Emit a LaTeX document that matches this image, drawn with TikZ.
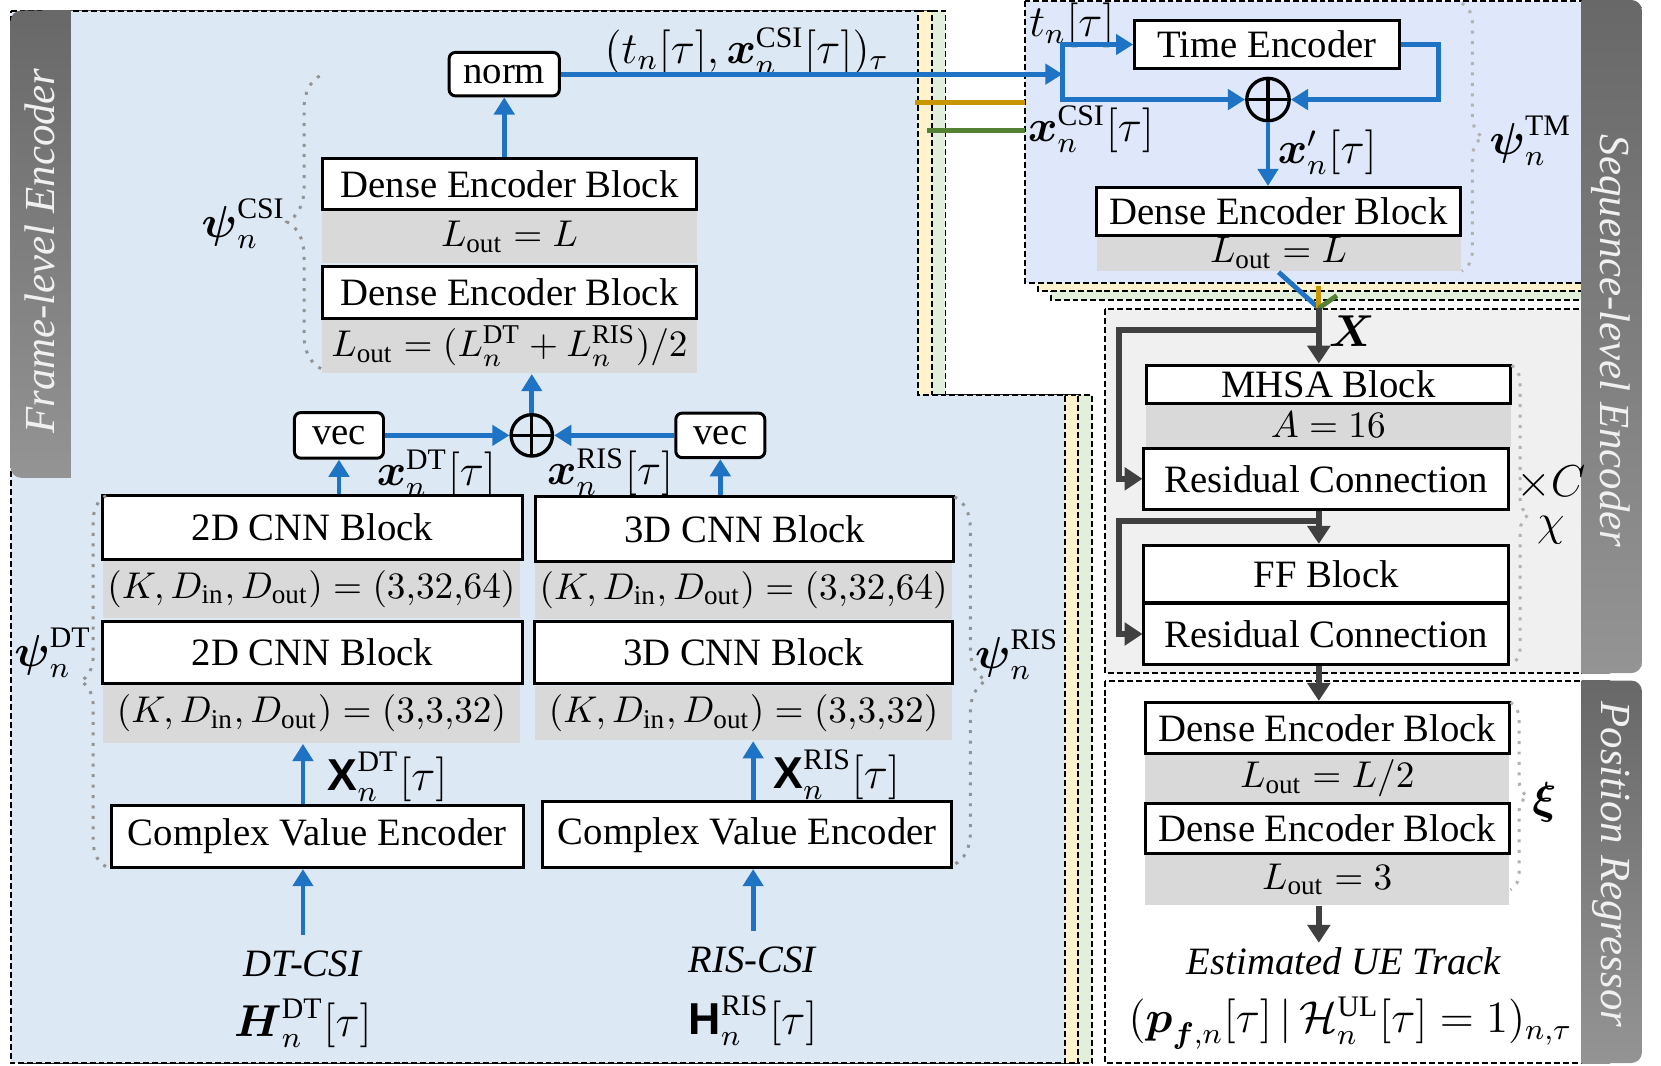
\documentclass[tikz,border=0pt]{standalone}
\usepackage{amsmath,amssymb}
\usepackage{fontspec}
\setmainfont{Liberation Serif}
\setsansfont{Liberation Sans}
\usetikzlibrary{arrows.meta, calc, decorations.pathreplacing}
\definecolor{flowblue}{RGB}{30,115,196}
\definecolor{flowgray}{RGB}{64,64,64}
\definecolor{flebg}{RGB}{221,232,245}
\definecolor{tmbg}{RGB}{222,232,250}
\definecolor{layeryellow}{RGB}{255,242,204}
\definecolor{layergreen}{RGB}{226,239,218}
\definecolor{paramgray}{RGB}{217,217,217}
\definecolor{slebg}{RGB}{240,240,240}
\definecolor{lineorange}{RGB}{200,150,0}
\definecolor{linegreen}{RGB}{84,130,53}
\definecolor{tabdark}{RGB}{104,104,104}
\definecolor{tablight}{RGB}{148,148,148}
\tikzset{
  blk/.style={draw, line width=0.8pt, fill=white, inner sep=0pt},
  prm/.style={fill=paramgray, inner sep=0pt},
  opnode/.style={draw, rounded corners=0.06cm, line width=0.8pt, fill=white, inner sep=0pt},
  addnode/.style={circle, draw, line width=0.9pt, inner sep=0pt,
    path picture={\draw[line width=0.9pt] (path picture bounding box.north) -- (path picture bounding box.south)
      (path picture bounding box.west) -- (path picture bounding box.east);}},
  lbl/.style={inner sep=0pt, font=\fontsize{12}{14}\selectfont},
  barrow/.style={-{Triangle[length=4.6pt,width=5.4pt]}, line width=1.3pt, flowblue},
  garrow/.style={-{Triangle[length=4.8pt,width=6pt]}, line width=1.6pt, flowgray},
  layerbox/.style={draw, line width=0.5pt, dash pattern=on 1.6pt off 0.8pt},
  bracedot/.style={decorate, decoration={brace, amplitude=#1}, gray!85, dotted, line width=0.8pt},
  tabshade/.style={top color=tabdark, bottom color=tablight},
  tabtxt/.style={font=\fontsize{11.5}{13}\selectfont\itshape, text=gray!12},
}

\begin{document}
\begin{tikzpicture}[x=0.01cm, y=-0.01cm, every node/.style={font=\fontsize{10.4}{12.5}\selectfont}]
  \useasboundingbox (0,0) rectangle (1568,1006);

  % stacked frame-level encoders
  \foreach \dx/\col in {26/layergreen, 13/layeryellow, 0/flebg}
    \filldraw[layerbox, fill=\col, xshift=\dx*0.01cm] (10,10) -- (866.5,10) -- (866.5,372.8)
      -- (1005,372.8) -- (1005,1003.5) -- (10,1003.5) -- cycle;
  % stacked temporal modules
  \foreach \dx/\dy/\col in {24/15.5/layergreen, 12/7.5/layeryellow, 0/0/tmbg}
    \filldraw[layerbox, fill=\col, shift={(\dx,\dy)}] (968,1) rectangle (1493,267.5);
  \filldraw[layerbox, fill=slebg] (1043,292) rectangle (1493,635.4);
  \filldraw[layerbox, fill=white] (1043,642.5) rectangle (1493,1003.5);

  % side tabs
  \shade[tabshade, rounded corners=0.1cm] (10,10) rectangle (67,451);
  \shade[tabshade] (40,10) rectangle (67,451);
  \shade[tabshade, rounded corners=0.1cm] (1493,0) rectangle (1550,635.4);
  \shade[tabshade] (1493,0) rectangle (1520,635.4);
  \shade[tabshade, rounded corners=0.1cm] (1493,642.5) rectangle (1550,1003.5);
  \shade[tabshade] (1493,642.5) rectangle (1520,1003.5);
  \node[tabtxt, rotate=90] (tabfle) at (38,237) {Frame-level Encoder};
  \node[tabtxt, rotate=-90] (tabsle) at (1521,322) {Sequence-level Encoder};
  \node[tabtxt, rotate=-90] (tabpr) at (1521,816) {Position Regressor};

  % frame-level encoder
  \node[prm, minimum width=3.53cm, minimum height=0.50cm] (pcsiA) at (481,223.4) {$L_{\mathrm{out}}=L$};
  \node[prm, minimum width=3.53cm, minimum height=0.52cm] (pcsiB) at (481,326.4)
    {$L_{\mathrm{out}}=(L_n^{\mathrm{DT}}+L_n^{\mathrm{RIS}})/2$};
  \node[blk, minimum width=3.53cm, minimum height=0.48cm] (dcsiA) at (481,174) {Dense Encoder Block};
  \node[blk, minimum width=3.53cm, minimum height=0.49cm] (dcsiB) at (481,276) {Dense Encoder Block};
  \node[opnode, minimum width=1.04cm, minimum height=0.41cm] (norm) at (476,70) {norm};
  \node[addnode, minimum size=0.39cm] (addcsi) at (502,411) {};
  \node[opnode, minimum width=0.84cm, minimum height=0.43cm] (vecdt) at (320,411) {vec};
  \node[opnode, minimum width=0.84cm, minimum height=0.42cm] (vecris) at (680,411) {vec};

  \node[prm, minimum width=3.94cm, minimum height=0.555cm] (pcnndtA) at (294,556)
    {$(K,D_{\mathrm{in}},D_{\mathrm{out}})=(3{,}32{,}64)$};
  \node[prm, minimum width=3.94cm, minimum height=0.56cm] (pcnndtB) at (294,673.5)
    {$(K,D_{\mathrm{in}},D_{\mathrm{out}})=(3{,}3{,}32)$};
  \node[blk, minimum width=3.96cm, minimum height=0.60cm] (cnndtA) at (295,498) {2D CNN Block};
  \node[blk, minimum width=3.96cm, minimum height=0.59cm] (cnndtB) at (295,616) {2D CNN Block};
  \node[prm, minimum width=3.94cm, minimum height=0.54cm] (pcnnrisA) at (702,557)
    {$(K,D_{\mathrm{in}},D_{\mathrm{out}})=(3{,}32{,}64)$};
  \node[prm, minimum width=3.94cm, minimum height=0.51cm] (pcnnrisB) at (702,673.5)
    {$(K,D_{\mathrm{in}},D_{\mathrm{out}})=(3{,}3{,}32)$};
  \node[blk, minimum width=3.945cm, minimum height=0.61cm] (cnnrisA) at (703,499.5) {3D CNN Block};
  \node[blk, minimum width=3.94cm, minimum height=0.59cm] (cnnrisB) at (702,616) {3D CNN Block};
  \node[blk, minimum width=3.89cm, minimum height=0.59cm] (cvedt) at (299.5,789.5) {Complex Value Encoder};
  \node[blk, minimum width=3.86cm, minimum height=0.62cm] (cveris) at (705.5,788) {Complex Value Encoder};

  \node[inner sep=1pt] (indt) at (286,910) {\textit{DT-CSI}};
  \node[lbl] (hdt) at (286,966) {$\boldsymbol{H}_n^{\mathrm{DT}}[\tau]$};
  \node[inner sep=1pt] (inris) at (711,906) {\textit{RIS-CSI}};
  \node[lbl] (hris) at (711,964) {$\mbox{\sffamily\bfseries H}_n^{\mathrm{RIS}}[\tau]$};
  \node[lbl] (lblXdt) at (366,733) {$\mbox{\sffamily\bfseries X}_n^{\mathrm{DT}}[\tau]$};
  \node[lbl] (lblXris) at (790,731) {$\mbox{\sffamily\bfseries X}_n^{\mathrm{RIS}}[\tau]$};
  \node[lbl] (lblxdt) at (412,447) {$\boldsymbol{x}_n^{\mathrm{DT}}[\tau]$};
  \node[lbl] (lblxris) at (576,446) {$\boldsymbol{x}_n^{\mathrm{RIS}}[\tau]$};
  \node[lbl] (lblseq) at (705,48) {$(t_n[\tau],\boldsymbol{x}_n^{\mathrm{CSI}}[\tau])_\tau$};
  \node[lbl] (psicsi) at (230,211) {$\boldsymbol{\psi}_n^{\mathrm{CSI}}$};
  \node[lbl] (psidt) at (50,616) {$\boldsymbol{\psi}_n^{\mathrm{DT}}$};
  \node[lbl] (psiris) at (960,618) {$\boldsymbol{\psi}_n^{\mathrm{RIS}}$};

  \draw[bracedot=0.32cm] (303,348) -- (303,71);
  \draw[bracedot=0.24cm] (100,818) -- (100,468);
  \draw[bracedot=0.30cm] (901,469) -- (901,816);

  \draw[barrow, shorten <=0.11cm] (indt.north) -- (indt.north |- cvedt.south);
  \draw[barrow, shorten <=0.11cm] (inris.north) -- (inris.north |- cveris.south);
  \draw[barrow] (indt.north |- cvedt.north) -- (indt.north |- pcnndtB.south);
  \draw[barrow] (inris.north |- cveris.north) -- (inris.north |- pcnnrisB.south);
  \draw[barrow] (vecdt.south |- cnndtA.north) -- (vecdt.south);
  \draw[barrow] (vecris.south |- cnnrisA.north) -- (vecris.south);
  \draw[barrow] (vecdt.east) -- (addcsi.west);
  \draw[barrow] (vecris.west) -- (addcsi.east);
  \draw[barrow] (addcsi.north) -- (addcsi.north |- pcsiB.south);
  \draw[barrow] (norm.south |- dcsiA.north) -- (norm.south);

  % temporal module
  \node[prm, minimum width=3.435cm, minimum height=0.345cm] (ptm) at (1207,239) {$L_{\mathrm{out}}=L$};
  \node[blk, minimum width=3.435cm, minimum height=0.45cm] (dtm) at (1207,199.5) {Dense Encoder Block};
  \node[blk, line width=0.7pt, minimum width=2.5cm, minimum height=0.45cm] (tenc) at (1196,42) {Time Encoder};
  \node[addnode, minimum size=0.40cm] (addtm) at (1197,94) {};
  \coordinate (split) at (1003,70);
  \node[lbl] (lbltn) at (1012,24) {$t_n[\tau]$};
  \node[lbl] (lblxcsi) at (1030,122) {$\boldsymbol{x}_n^{\mathrm{CSI}}[\tau]$};
  \node[lbl] (lblxp) at (1253,144) {$\boldsymbol{x}'_n[\tau]$};
  \node[lbl] (psitm) at (1445,133) {$\boldsymbol{\psi}_n^{\mathrm{TM}}$};
  \draw[bracedot=0.2cm, gray!60] (1380,3) -- (1380,256);

  \draw[barrow] (norm.east) -- (split);
  \draw[barrow, line cap=rect] (split |- addtm.west) -- (split |- tenc.west) -- (tenc.west);
  \draw[barrow, line cap=rect] (split |- addtm.west) -- (addtm.west);
  \draw[barrow] (tenc.east) -- ++(36,0) |- (addtm.east);
  \draw[barrow] (addtm.south) -- (addtm.south |- dtm.north);

  % links of the other stacked encoders
  \coordinate (ylout) at (864,97);
  \coordinate (ylin) at (968,97);
  \coordinate (gnout) at (875.5,123.4);
  \coordinate (gnin) at (968,123.4);
  \draw[line width=1.3pt, lineorange] (ylout) -- (ylin);
  \draw[line width=1.3pt, linegreen] (gnout) -- (gnin);

  % sequence-level encoder
  \coordinate (merge) at (1245,291);
  \coordinate (resA) at (1245,311.5);
  \coordinate (resB) at (1245,491.5);
  \node[prm, minimum width=3.44cm, minimum height=0.41cm] (pmhsa) at (1254,401) {$A=16$};
  \node[blk, minimum width=3.44cm, minimum height=0.36cm] (mhsa) at (1254,362.6) {MHSA Block};
  \node[blk, minimum width=3.44cm, minimum height=0.58cm] (rcA) at (1252,452) {Residual Connection};
  \node[blk, minimum width=3.44cm, minimum height=0.544cm] (ffb) at (1252,542) {FF Block};
  \node[blk, minimum width=3.44cm, minimum height=0.58cm] (rcB) at (1252,598.5) {Residual Connection};
  \node[lbl] (lblX) at (1276,313) {$\boldsymbol{X}$};
  \node[lbl] (lbltimes) at (1464,456) {$\times C$};
  \node[lbl] (lblchi) at (1464,501) {$\chi$};
  \draw[bracedot=0.16cm, gray!60] (1427,345) -- (1427,627);

  \draw[line width=1.3pt, flowblue] (ptm.south) -- (merge);
  \draw[line width=1.3pt, lineorange] (merge) -- ++(0,-21);
  \draw[line width=1.3pt, linegreen] (merge) -- ++(17,-12);
  \draw[garrow] (merge) -- (merge |- mhsa.north);
  \draw[garrow] (resA) -- ++(-189,0) |- (rcA.west);
  \draw[garrow] (merge |- rcA.south) -- (merge |- ffb.north);
  \draw[garrow] (resB) -- ++(-189,0) |- (rcB.west);

  % position regressor
  \node[prm, minimum width=3.435cm, minimum height=0.46cm] (pprA) at (1253,735) {$L_{\mathrm{out}}=L/2$};
  \node[prm, minimum width=3.435cm, minimum height=0.495cm] (pprB) at (1253,830) {$L_{\mathrm{out}}=3$};
  \node[blk, minimum width=3.435cm, minimum height=0.487cm] (dprA) at (1253,687.4) {Dense Encoder Block};
  \node[blk, minimum width=3.435cm, minimum height=0.465cm] (dprB) at (1253,782) {Dense Encoder Block};
  \node[inner sep=1pt] (esttrk) at (1269,907) {\textit{Estimated UE Track}};
  \node[lbl] (lblout) at (1275,966)
    {$(\boldsymbol{p}_{\boldsymbol{f},n}[\tau]\,|\,\mathcal{H}_n^{\mathrm{UL}}[\tau]=1)_{n,\tau}$};
  \node[lbl] (lblxi) at (1458,757) {$\boldsymbol{\xi}$};
  \draw[bracedot=0.16cm, gray!60] (1426,663) -- (1426,840);

  \draw[garrow] (merge |- rcB.south) -- (merge |- dprA.north);
  \draw[garrow] (merge |- pprB.south) -- (merge |- esttrk.north);
\end{tikzpicture}
\end{document}
